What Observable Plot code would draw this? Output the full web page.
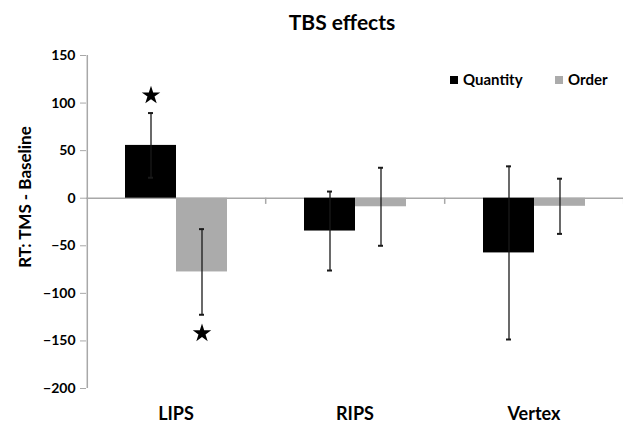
<!DOCTYPE html>
<html><head><meta charset="utf-8">
<script src="https://cdn.jsdelivr.net/npm/d3@7"></script>
<script src="https://cdn.jsdelivr.net/npm/@observablehq/plot@0.6"></script>
<style>
body{margin:0;background:#fff;overflow:hidden}
#wrap{position:relative;width:623px;height:424px;font-family:Lato,"Open Sans",sans-serif;font-weight:bold;color:#000}
#wrap svg{position:absolute;left:0;top:0}
#title{position:absolute;left:342px;top:9px;transform:translateX(-50%);font-size:21px;white-space:nowrap;line-height:26px}
#ylab{position:absolute;left:24px;top:197px;transform:translate(-50%,-50%) rotate(-90deg);font-size:17px;white-space:nowrap}
.leg{position:absolute;top:70px;font-size:15px;white-space:nowrap;line-height:18px}
.leg span{display:inline-block;width:8px;height:8px;margin-right:5px;vertical-align:1px}
</style></head><body>
<div id="wrap">
<div id="title">TBS effects</div>
<div id="ylab">RT: TMS - Baseline</div>
</div>
<script>
const sites = ["LIPS", "RIPS", "Vertex"];
const tasks = ["Quantity", "Order"];
const colors = ["#000000", "#ababab"];
const quantityMeans = [55.5, -34.5, -57.5];
const quantityErrors = [34, 41.5, 91];
const orderMeans = [-77.5, -9, -8.5];
const orderErrors = [45, 41, 29];
const yTicks = [-200, -150, -100, -50, 0, 50, 100, 150];
const starSites = ["LIPS", "LIPS"];
const starTasks = ["Quantity", "Order"];
const starValues = [108, -142];

const data = sites.flatMap((s, i) => [
  {site: s, task: "Quantity", mean: quantityMeans[i], err: quantityErrors[i]},
  {site: s, task: "Order", mean: orderMeans[i], err: orderErrors[i]}
]);
const stars = starValues.map((v, i) => ({site: starSites[i], task: starTasks[i], value: v}));

const plot = Plot.plot({
  width: 623, height: 424,
  marginTop: 55, marginBottom: 36, marginLeft: 85, marginRight: 0,
  style: {fontFamily: "Lato, 'Open Sans', sans-serif", fontWeight: "bold", fontSize: "14px", color: "#000", background: "transparent"},
  fx: {domain: sites, paddingInner: 0, paddingOuter: 0, label: null},
  x: {domain: tasks, paddingInner: 0, paddingOuter: 0.724, axis: null},
  y: {domain: [-200, 150], label: null},
  color: {domain: tasks, range: colors},
  marks: [
    Plot.ruleY([0], {stroke: "#a8a8a8", strokeWidth: 1.5}),
    Plot.ruleX(sites, {fx: d => d, x: () => "Order", y1: 0, y2: -6.5, dx: 63.7, stroke: "#a8a8a8", strokeWidth: 1.5}),
    Plot.ruleX([sites[0]], {fx: d => d, x: () => "Quantity", y1: -200, y2: 150, dx: -63.7, stroke: "#a8a8a8", strokeWidth: 1.5}),
    Plot.barY(data, {fx: "site", x: "task", y: "mean", fill: "task"}),
    Plot.ruleX(data, {fx: "site", x: "task", y1: d => d.mean - d.err, y2: d => d.mean + d.err, stroke: "#1a1a1a", strokeWidth: 1.3}),
    Plot.tickY(data, {fx: "site", x: "task", y: d => d.mean + d.err, insetLeft: 23, insetRight: 23, stroke: "#1a1a1a", strokeWidth: 2}),
    Plot.tickY(data, {fx: "site", x: "task", y: d => d.mean - d.err, insetLeft: 23, insetRight: 23, stroke: "#1a1a1a", strokeWidth: 2}),
    Plot.dot(stars, {fx: "site", x: "task", y: "value", symbol: "star", r: 5.8, fill: "#000", stroke: null}),
    Plot.axisY({ticks: yTicks, tickSize: 6, tickPadding: 5, stroke: "#a8a8a8", fill: "#000", fontSize: 14, label: null}),
    Plot.axisFx({anchor: "bottom", tickSize: 0, tickPadding: 19, fontSize: 18, label: null})
  ]
});
const wrap = document.getElementById("wrap");
wrap.insertBefore(plot, wrap.firstChild);

const legendX = [450, 555];
tasks.forEach((t, i) => {
  const d = document.createElement("div");
  d.className = "leg";
  d.style.left = legendX[i] + "px";
  d.innerHTML = `<span style="background:${colors[i]}"></span>${t}`;
  wrap.appendChild(d);
});
</script>
</body></html>
